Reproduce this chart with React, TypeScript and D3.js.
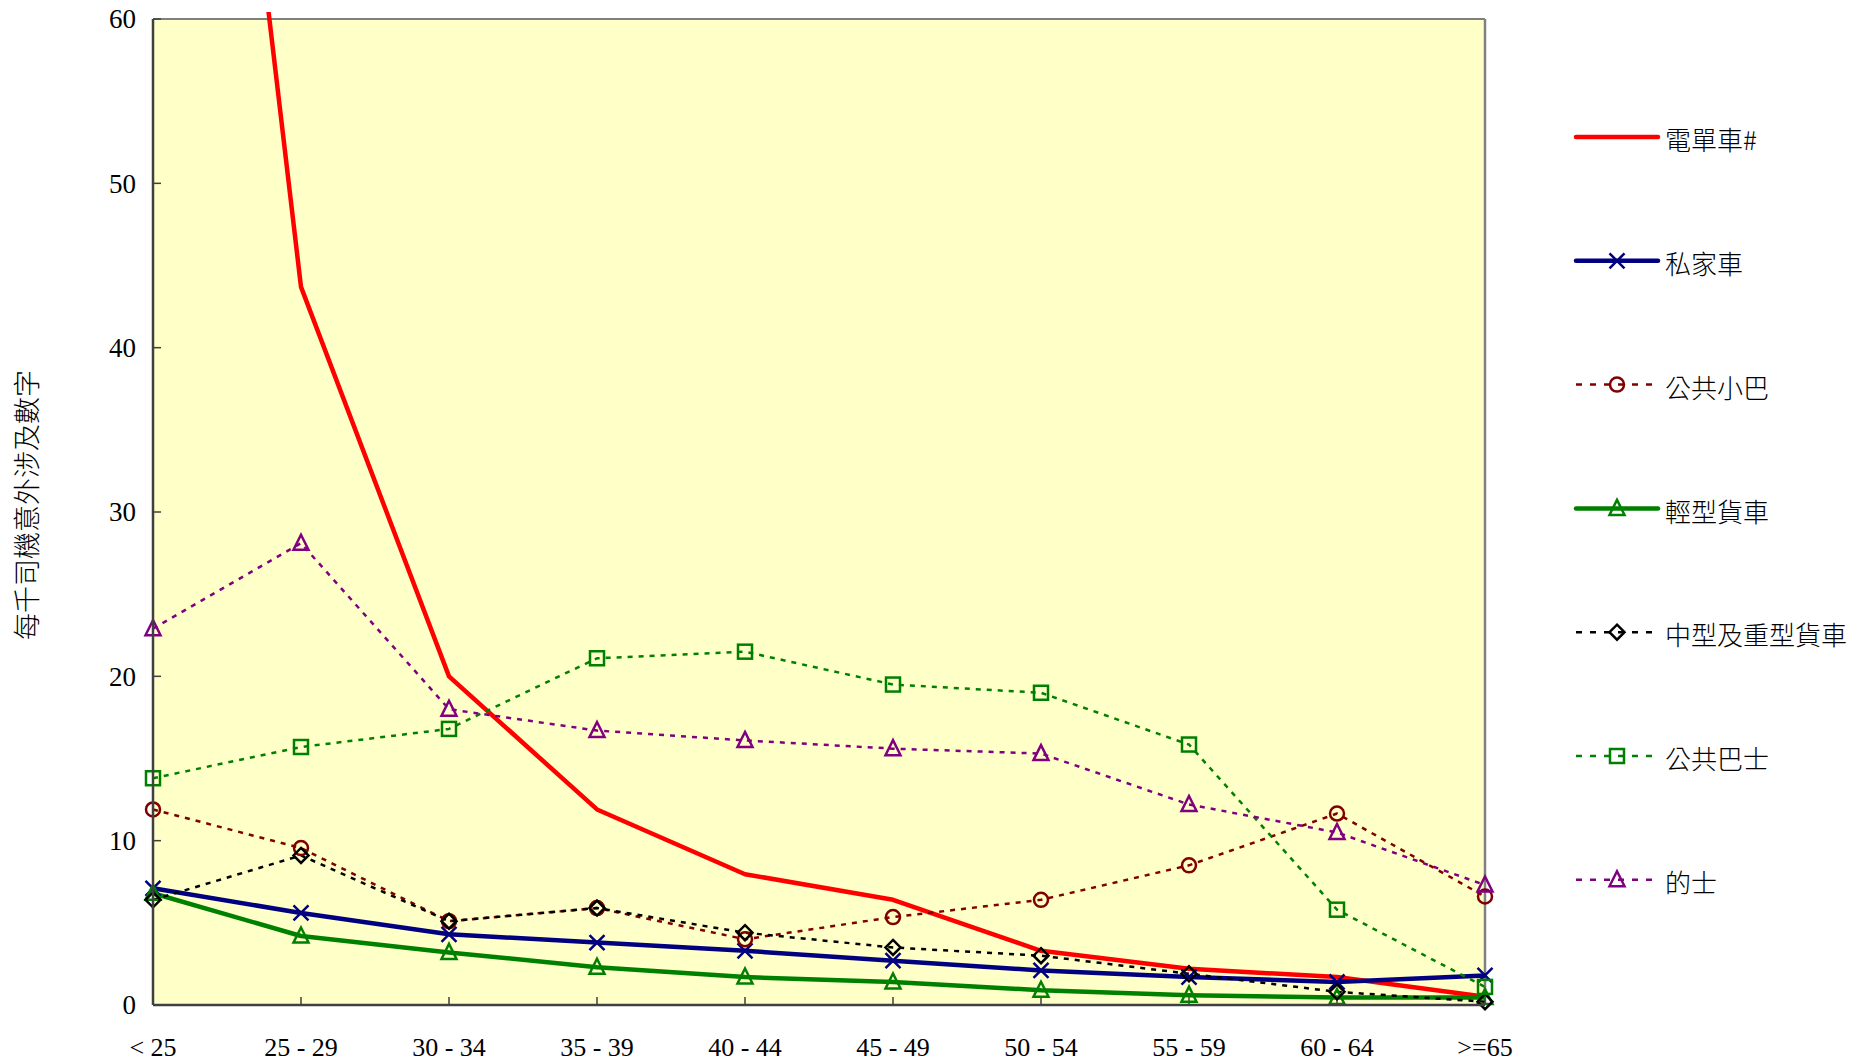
import React from 'react';
import * as d3 from 'd3';

const ageGroups = ['< 25', '25 - 29', '30 - 34', '35 - 39', '40 - 44', '45 - 49', '50 - 54', '55 - 59', '60 - 64', '>=65'];
const yTicks = [0, 10, 20, 30, 40, 50, 60];

const motorcycle = [120, 43.7, 20.0, 11.9, 7.96, 6.4, 3.3, 2.2, 1.7, 0.5];
const privateCar = [7.1, 5.6, 4.3, 3.8, 3.3, 2.7, 2.1, 1.7, 1.4, 1.8];
const publicLightBus = [11.9, 9.55, 5.1, 5.9, 4.0, 5.35, 6.4, 8.5, 11.65, 6.6];
const lightGoods = [6.8, 4.2, 3.2, 2.3, 1.7, 1.4, 0.9, 0.6, 0.45, 0.45];
const mediumHeavyGoods = [6.4, 9.1, 5.1, 5.9, 4.4, 3.5, 3.0, 1.9, 0.8, 0.2];
const bus = [13.8, 15.7, 16.8, 21.1, 21.5, 19.5, 19.0, 15.85, 5.8, 1.1];
const taxi = [22.9, 28.1, 18.0, 16.7, 16.1, 15.6, 15.3, 12.2, 10.5, 7.3];

type Marker = 'none' | 'x' | 'circle' | 'triangle' | 'diamond' | 'square';

interface Series {
  name: string;
  values: number[];
  color: string;
  width: number;
  dashed: boolean;
  marker: Marker;
}

const series: Series[] = [
  { name: '電單車#', values: motorcycle, color: '#ff0000', width: 4.5, dashed: false, marker: 'none' },
  { name: '私家車', values: privateCar, color: '#000080', width: 4.5, dashed: false, marker: 'x' },
  { name: '公共小巴', values: publicLightBus, color: '#800000', width: 2.5, dashed: true, marker: 'circle' },
  { name: '輕型貨車', values: lightGoods, color: '#008000', width: 4.5, dashed: false, marker: 'triangle' },
  { name: '中型及重型貨車', values: mediumHeavyGoods, color: '#000000', width: 2.5, dashed: true, marker: 'diamond' },
  { name: '公共巴士', values: bus, color: '#008000', width: 2.5, dashed: true, marker: 'square' },
  { name: '的士', values: taxi, color: '#800080', width: 2.5, dashed: true, marker: 'triangle' },
];

const W = 1868;
const H = 1063;
const plot = { left: 153, top: 19, right: 1485, bottom: 1005 };

const MarkerShape: React.FC<{ kind: Marker; x: number; y: number; color: string }> = ({ kind, x, y, color }) => {
  const sw = 2.5;
  switch (kind) {
    case 'x':
      return (
        <path d={`M${x - 7.5},${y - 7.5}L${x + 7.5},${y + 7.5}M${x - 7.5},${y + 7.5}L${x + 7.5},${y - 7.5}`} stroke={color} strokeWidth={sw} fill="none" />
      );
    case 'circle':
      return <circle cx={x} cy={y} r={7} stroke={color} strokeWidth={sw} fill="none" />;
    case 'triangle':
      return <path d={`M${x},${y - 8.5}L${x + 7.5},${y + 6.5}L${x - 7.5},${y + 6.5}Z`} stroke={color} strokeWidth={sw} fill="none" />;
    case 'diamond':
      return <path d={`M${x},${y - 7.5}L${x + 7.5},${y}L${x},${y + 7.5}L${x - 7.5},${y}Z`} stroke={color} strokeWidth={sw} fill="none" />;
    case 'square':
      return <rect x={x - 7} y={y - 7} width={14} height={14} stroke={color} strokeWidth={sw} fill="none" />;
    default:
      return null;
  }
};

export default function App() {
  const x = d3.scalePoint<string>().domain(ageGroups).range([plot.left, plot.right]);
  const y = d3.scaleLinear().domain([0, 60]).range([plot.bottom, plot.top]);

  const line = d3
    .line<number>()
    .x((_, i) => x(ageGroups[i]) as number)
    .y(d => y(d));

  const legendX1 = 1576;
  const legendX2 = 1658;
  const legendY = (i: number) => 137 + i * 123.8;

  return (
    <svg width={W} height={H} style={{ position: 'absolute', left: 0, top: 0 }}>
      <defs>
        <clipPath id="plotClip">
          <rect x={plot.left - 20} y={12} width={plot.right - plot.left + 40} height={plot.bottom - 12 + 20} />
        </clipPath>
      </defs>
      <rect x={plot.left} y={plot.top} width={plot.right - plot.left} height={plot.bottom - plot.top} fill="#ffffc8" />
      {/* frame */}
      <line x1={plot.left} x2={plot.right} y1={plot.top} y2={plot.top} stroke="#808080" strokeWidth={2} />
      <line x1={plot.right} x2={plot.right} y1={plot.top} y2={plot.bottom} stroke="#808080" strokeWidth={2.5} />

      {/* y ticks */}
      {yTicks.map(t => (
        <g key={t}>
          <line x1={plot.left} x2={plot.left + 8} y1={y(t)} y2={y(t)} stroke="#404040" strokeWidth={1.5} />
          <text x={plot.left - 17} y={y(t)} dy="0.35em" textAnchor="end" fontFamily="Liberation Serif" fontSize={27} fill="#000">
            {t}
          </text>
        </g>
      ))}

      {/* x ticks */}
      {ageGroups.map(g => (
        <g key={g}>
          <line x1={x(g)} x2={x(g)} y1={plot.bottom} y2={plot.bottom - 8} stroke="#404040" strokeWidth={1.5} />
          <text x={x(g)} y={1047} dy="0.35em" textAnchor="middle" fontFamily="Liberation Serif" fontSize={26} fill="#000">
            {g}
          </text>
        </g>
      ))}

      {/* series */}
      <g clipPath="url(#plotClip)">
        {series.map(s => (
          <path
            key={s.name}
            d={line(s.values) || ''}
            fill="none"
            stroke={s.color}
            strokeWidth={s.width}
            strokeDasharray={s.dashed ? '5,6' : undefined}
            strokeLinejoin="round"
          />
        ))}
      </g>
      {series.map(s =>
        s.values.map((v, i) => (
          <MarkerShape key={s.name + i} kind={s.marker} x={x(ageGroups[i]) as number} y={y(v)} color={s.color} />
        ))
      )}

      {/* axes */}
      <line x1={plot.left} x2={plot.left} y1={plot.top} y2={plot.bottom} stroke="#404040" strokeWidth={2.5} />
      <line x1={plot.left} x2={plot.right} y1={plot.bottom} y2={plot.bottom} stroke="#404040" strokeWidth={2.5} />

      {/* y title */}
      <text
        transform={`translate(28,505) rotate(-90)`}
        textAnchor="middle"
        dy="0.35em"
        fontFamily="Noto Sans CJK TC"
        fontWeight={300}
        fontSize={27}
        fill="#000"
      >
        每千司機意外涉及數字
      </text>

      {/* legend */}
      {series.map((s, i) => (
        <g key={s.name}>
          <line
            x1={legendX1}
            x2={legendX2}
            y1={legendY(i)}
            y2={legendY(i)}
            stroke={s.color}
            strokeWidth={s.width}
            strokeDasharray={s.dashed ? '6,8' : undefined}
            strokeLinecap={s.dashed ? 'butt' : 'round'}
          />
          <MarkerShape kind={s.marker} x={(legendX1 + legendX2) / 2} y={legendY(i)} color={s.color} />
          <text x={1665} y={legendY(i) + 4} dy="0.35em" fontFamily="Noto Sans CJK TC" fontWeight={300} fontSize={26} fill="#000">
            {s.name}
          </text>
        </g>
      ))}
    </svg>
  );
}
